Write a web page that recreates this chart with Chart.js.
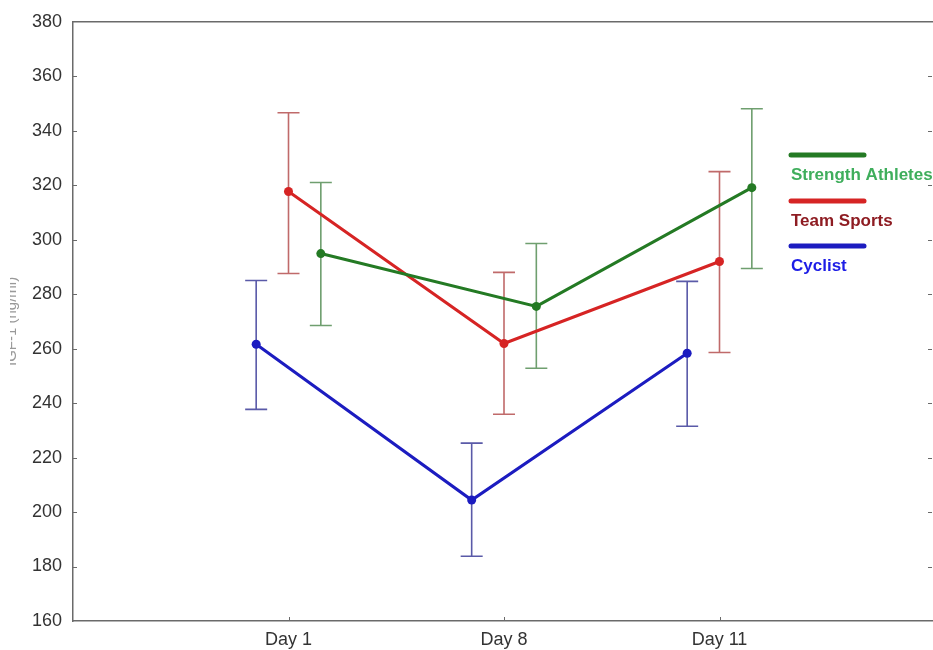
<!DOCTYPE html>
<html>
<head>
<meta charset="utf-8">
<script src="https://cdn.jsdelivr.net/npm/chart.js@4/dist/chart.umd.min.js"></script>
<style>
  html, body { margin: 0; padding: 0; background: #fff; overflow: hidden; }
  #wrap { width: 933px; height: 650px; overflow: hidden; position: relative; }
  canvas { display: block; }
</style>
</head>
<body>
<div id="wrap"><canvas id="c" width="940" height="650"></canvas></div>
<script>
// Sampling days on the x axis
const categories = ['Day 1', 'Day 8', 'Day 11'];

// Group names, in legend order
const groupNames = ['Strength Athletes', 'Team Sports', 'Cyclist'];

// Means and error-bar limits, IGF-1 (ng/ml)
const strengthMean = [294.9, 275.5, 319.1];
const strengthLow  = [268.5, 252.8, 289.4];
const strengthHigh = [321.0, 298.6, 348.1];

const teamMean = [317.7, 261.9, 292.0];
const teamLow  = [287.6, 235.9, 258.6];
const teamHigh = [346.6, 288.0, 325.0];

const cyclistMean = [261.6, 204.4, 258.3];
const cyclistLow  = [237.7, 183.8, 231.5];
const cyclistHigh = [285.0, 225.3, 284.7];

// Y-axis ticks
const yMin = 160, yMax = 380, yStep = 20;

// Horizontal dodge so the three groups don't overlap at each day
const dodge = { 'Cyclist': -0.15, 'Team Sports': 0, 'Strength Athletes': 0.15 };

const styles = {
  'Strength Athletes': { line: '#247a24', bar: '#6f9f6f', text: '#3fae5c' },
  'Team Sports':       { line: '#d62424', bar: '#c06a6a', text: '#8e1c22' },
  'Cyclist':           { line: '#1c1cc0', bar: '#5a5aa8', text: '#1d1de6' }
};

function points(name, means) {
  return means.map((v, i) => ({ x: i + 1 + dodge[name], y: v }));
}

const groups = [
  { name: 'Cyclist', mean: cyclistMean, low: cyclistLow, high: cyclistHigh },
  { name: 'Strength Athletes', mean: strengthMean, low: strengthLow, high: strengthHigh },
  { name: 'Team Sports', mean: teamMean, low: teamLow, high: teamHigh }
];

const datasets = groups.map(g => ({
  label: g.name,
  data: points(g.name, g.mean),
  borderColor: styles[g.name].line,
  backgroundColor: styles[g.name].line,
  pointBackgroundColor: styles[g.name].line,
  pointBorderWidth: 0,
  pointRadius: 4.5,
  borderWidth: 3,
  tension: 0,
  low: g.low,
  high: g.high
}));

const axisColor = '#6a6a6a';

// Error bars under the lines
const errorBars = {
  id: 'errorBars',
  beforeDatasetsDraw(chart) {
    const { ctx, scales: { x, y } } = chart;
    ctx.save();
    chart.data.datasets.forEach(ds => {
      ctx.strokeStyle = styles[ds.label].bar;
      ctx.lineWidth = 1.6;
      ds.data.forEach((p, i) => {
        const px = x.getPixelForValue(p.x);
        const top = y.getPixelForValue(ds.high[i]);
        const bot = y.getPixelForValue(ds.low[i]);
        const cap = 11;
        ctx.beginPath();
        ctx.moveTo(px, top); ctx.lineTo(px, bot);
        ctx.moveTo(px - cap, top); ctx.lineTo(px + cap, top);
        ctx.moveTo(px - cap, bot); ctx.lineTo(px + cap, bot);
        ctx.stroke();
      });
    });
    ctx.restore();
  }
};

// Box frame, inward tick marks, legend and axis title
const frame = {
  id: 'frame',
  afterDraw(chart) {
    const { ctx, chartArea: a, scales: { x, y } } = chart;
    ctx.save();
    ctx.strokeStyle = axisColor;
    ctx.lineWidth = 1.5;
    ctx.beginPath();
    ctx.moveTo(a.left, a.top); ctx.lineTo(a.right, a.top); ctx.lineTo(a.right, a.bottom);
    ctx.stroke();

    ctx.lineWidth = 1;
    ctx.beginPath();
    for (let v = yMin + yStep; v < yMax; v += yStep) {
      const py = Math.round(y.getPixelForValue(v)) + 0.5;
      ctx.moveTo(a.left, py); ctx.lineTo(a.left + 4, py);
      ctx.moveTo(a.right - 7, py); ctx.lineTo(a.right - 3, py);
    }
    categories.forEach((c, i) => {
      const px = Math.round(x.getPixelForValue(i + 1)) + 0.5;
      ctx.moveTo(px, a.bottom); ctx.lineTo(px, a.bottom - 4);
    });
    ctx.stroke();

    // legend
    const legendX = 791, legendW = 73;
    const rows = [155, 201, 246];
    groupNames.forEach((name, i) => {
      const ly = rows[i];
      ctx.strokeStyle = styles[name].line;
      ctx.lineWidth = 5;
      ctx.lineCap = 'round';
      ctx.beginPath();
      ctx.moveTo(legendX, ly); ctx.lineTo(legendX + legendW, ly);
      ctx.stroke();
      ctx.fillStyle = styles[name].text;
      ctx.font = 'bold 17px "Liberation Sans", Arial, sans-serif';
      ctx.textBaseline = 'middle';
      ctx.textAlign = 'left';
      ctx.fillText(name, legendX, ly + 20);
    });

    // y-axis title, trimmed at the page edge
    ctx.beginPath();
    ctx.rect(10, 0, 40, chart.height);
    ctx.clip();
    ctx.translate(16, (a.top + a.bottom) / 2);
    ctx.rotate(-Math.PI / 2);
    ctx.fillStyle = '#999';
    ctx.font = '15px "Liberation Sans", Arial, sans-serif';
    ctx.textAlign = 'center';
    ctx.textBaseline = 'alphabetic';
    ctx.fillText('IGF-1 (ng/ml)', 0, 0);
    ctx.restore();
  }
};

new Chart(document.getElementById('c'), {
  type: 'line',
  data: { datasets },
  options: {
    responsive: false,
    animation: false,
    devicePixelRatio: 1,
    layout: { padding: { top: 21, right: 5, left: 0, bottom: 0 } },
    plugins: { legend: { display: false }, tooltip: { enabled: false } },
    scales: {
      x: {
        type: 'linear',
        min: 0, max: categories.length + 1,
        afterFit(s) { s.height = 29; },
        afterBuildTicks(s) { s.ticks = categories.map((c, i) => ({ value: i + 1 })); },
        ticks: {
          callback: v => categories[v - 1] || '',
          color: '#333',
          font: { size: 18, family: '"Liberation Sans", Arial, sans-serif' },
          padding: 8,
          maxRotation: 0
        },
        grid: { display: false, drawTicks: false },
        border: { display: true, color: axisColor, width: 1.5 }
      },
      y: {
        min: yMin, max: yMax,
        afterFit(s) { s.width = 73; },
        ticks: {
          stepSize: yStep,
          color: '#333',
          font: { size: 18, family: '"Liberation Sans", Arial, sans-serif' },
          padding: 11
        },
        grid: { display: false, drawTicks: false },
        border: { display: true, color: axisColor, width: 1.5 }
      }
    }
  },
  plugins: [errorBars, frame]
});
</script>
</body>
</html>
